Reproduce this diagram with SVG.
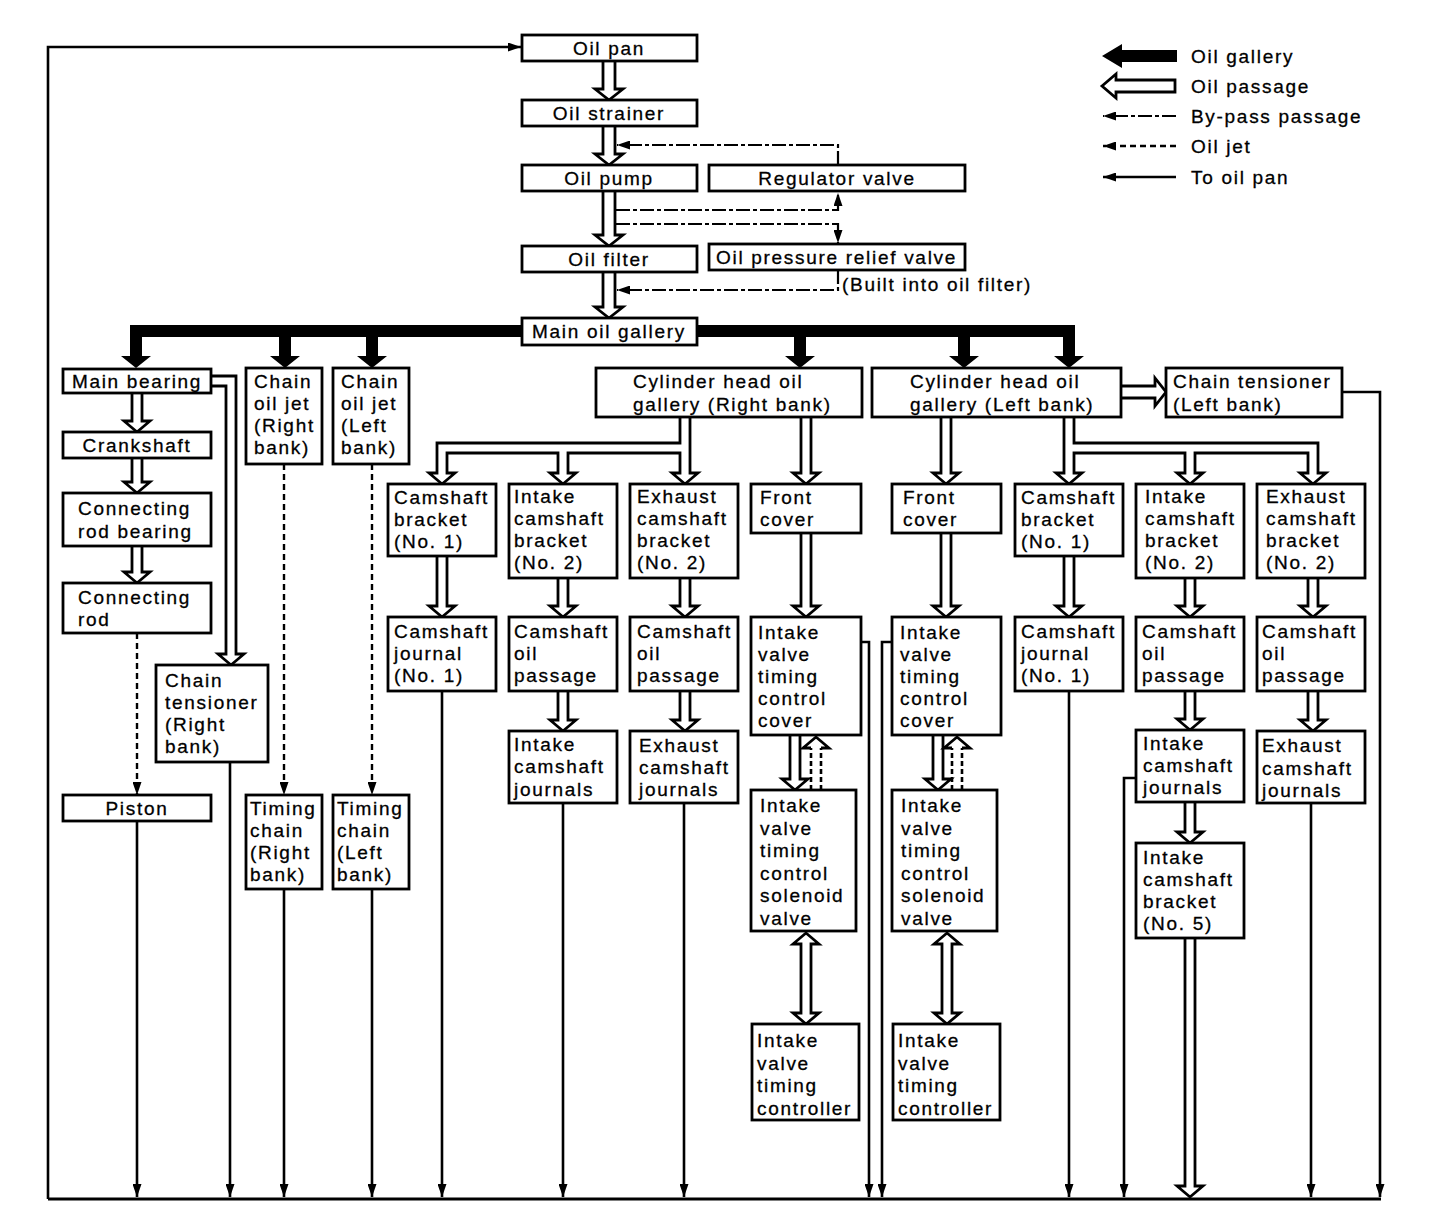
<svg xmlns="http://www.w3.org/2000/svg" width="1456" height="1216" viewBox="0 0 1456 1216">
<defs>
<style>
.b{fill:#fff;stroke:#000;stroke-width:2.8}
.t{font-family:"Liberation Sans",Arial,Helvetica,sans-serif;font-size:19px;letter-spacing:1.7px;fill:#000;stroke:#000;stroke-width:0.3}
.c{text-anchor:middle}
.p{fill:#fff;stroke:#000;stroke-width:2.8;stroke-linejoin:miter}
.g{fill:#000}
.r{fill:none;stroke:#000;stroke-width:2.6}
.bp{fill:none;stroke:#000;stroke-width:2.2;stroke-dasharray:14 3 4 3}
.j{fill:none;stroke:#000;stroke-width:2.4;stroke-dasharray:6 4}
.d{fill:none;stroke:#000;stroke-width:2.6;stroke-dasharray:5 3}
</style>
<marker id="ah" markerUnits="userSpaceOnUse" markerWidth="13" markerHeight="9" refX="13" refY="4.5" orient="auto">
<path d="M0,0 L13,4.5 L0,9 Z" fill="#000"/>
</marker>
</defs>
<rect width="1456" height="1216" fill="#fff"/>

<g id="connectors">
<g id="gallery-bar">
<rect class="g" x="130" y="325" width="945" height="12"/>
<polygon class="g" points="130,330 130,356 121,356 136,368 151,356 142,356 142,330"/>
<polygon class="g" points="279,330 279,356 270,356 285,368 300,356 291,356 291,330"/>
<polygon class="g" points="366,330 366,356 357,356 372,368 387,356 378,356 378,330"/>
<polygon class="g" points="794,330 794,356 785,356 800,368 815,356 806,356 806,330"/>
<polygon class="g" points="958,330 958,356 949,356 964,368 979,356 970,356 970,330"/>
<polygon class="g" points="1063,330 1063,356 1054,356 1069,368 1084,356 1075,356 1075,330"/>
</g>
<g id="passages">
<path class="p" d="M603,61 V89 H595 L609,100 L623,89 H615 V61"/>
<path class="p" d="M603,126 V154 H595 L609,165 L623,154 H615 V126"/>
<path class="p" d="M603,191 V235 H595 L609,246 L623,235 H615 V191"/>
<path class="p" d="M603,272 V307 H595 L609,318 L623,307 H615 V272"/>
<path class="p" d="M132,393 V421 H124 L137,432 L150,421 H142 V393"/>
<path class="p" d="M132,458 V482 H124 L137,493 L150,482 H142 V458"/>
<path class="p" d="M132,546 V572 H124 L137,583 L150,572 H142 V546"/>
<path class="p" d="M211,376 H236 V654 H244 L231,665 L218,654 H226 V386 H211"/>
<path class="p" d="M801,417 V473 H793 L806,484 L819,473 H811 V417"/>
<path class="p" d="M680,417 V443 H437 V473 H429 L442,484 L455,473 H447 V453 H558 V473 H550 L563,484 L576,473 H568 V453 H680 V473 H672 L685,484 L698,473 H690 V417"/>
<path class="p" d="M437,556 V606 H429 L442,617 L455,606 H447 V556"/>
<path class="p" d="M558,578 V606 H550 L563,617 L576,606 H568 V578"/>
<path class="p" d="M680,578 V606 H672 L685,617 L698,606 H690 V578"/>
<path class="p" d="M801,533 V606 H793 L806,617 L819,606 H811 V533"/>
<path class="p" d="M558,691 V720 H550 L563,731 L576,720 H568 V691"/>
<path class="p" d="M680,691 V720 H672 L685,731 L698,720 H690 V691"/>
<path class="p" d="M941,417 V473 H933 L946,484 L959,473 H951 V417"/>
<path class="p" d="M1064,417 V473 H1056 L1069,484 L1082,473 H1074 V453 H1185 V473 H1177 L1190,484 L1203,473 H1195 V453 H1308 V473 H1300 L1313,484 L1326,473 H1318 V443 H1074 V417"/>
<path class="p" d="M1121,386 H1155 V378 L1166,392 L1155,406 V398 H1121"/>
<path class="p" d="M941,533 V606 H933 L946,617 L959,606 H951 V533"/>
<path class="p" d="M1064,556 V606 H1056 L1069,617 L1082,606 H1074 V556"/>
<path class="p" d="M1185,578 V606 H1177 L1190,617 L1203,606 H1195 V578"/>
<path class="p" d="M1308,578 V606 H1300 L1313,617 L1326,606 H1318 V578"/>
<path class="p" d="M1185,691 V719 H1177 L1190,730 L1203,719 H1195 V691"/>
<path class="p" d="M1308,691 V720 H1300 L1313,731 L1326,720 H1318 V691"/>
<path class="p" d="M1185,802 V832 H1177 L1190,843 L1203,832 H1195 V802"/>
<path class="p" d="M1185,938 V1186 H1177 L1190,1197 L1203,1186 H1195 V938"/>
<path class="p" d="M790,735 V779 H782 L795,790 L808,779 H800 V735"/>
<path class="p" d="M933,735 V779 H925 L938,790 L951,779 H943 V735"/>
<path class="d" d="M811,790 V748 M821,790 V748"/>
<path class="p" d="M811,748 H803 L816,737 L829,748 H821"/>
<path class="d" d="M952,790 V748 M962,790 V748"/>
<path class="p" d="M952,748 H944 L957,737 L970,748 H962"/>
<path class="p" d="M801,944 H793 L806,933 L819,944 H811 V1013 H819 L806,1024 L793,1013 H801 Z"/>
<path class="p" d="M942,944 H934 L947,933 L960,944 H952 V1013 H960 L947,1024 L934,1013 H942 Z"/>
</g>
<g id="bypass">
<path class="bp" d="M838,165 V145 H617" marker-end="url(#ah)"/>
<path class="bp" d="M616,210 H838 V193" marker-end="url(#ah)"/>
<path class="bp" d="M616,224 H838 V243" marker-end="url(#ah)"/>
<path class="bp" d="M838,270 V290 H617" marker-end="url(#ah)"/>
</g>
<g id="jets">
<path class="j" d="M137,633 V795" marker-end="url(#ah)"/>
<path class="j" d="M284,464 V795" marker-end="url(#ah)"/>
<path class="j" d="M372,464 V795" marker-end="url(#ah)"/>
</g>
<g id="returns">
<path class="r" d="M137,821 V1197" marker-end="url(#ah)"/>
<path class="r" d="M230,762 V1197" marker-end="url(#ah)"/>
<path class="r" d="M284,889 V1197" marker-end="url(#ah)"/>
<path class="r" d="M372,889 V1197" marker-end="url(#ah)"/>
<path class="r" d="M442,691 V1197" marker-end="url(#ah)"/>
<path class="r" d="M563,803 V1197" marker-end="url(#ah)"/>
<path class="r" d="M684,803 V1197" marker-end="url(#ah)"/>
<path class="r" d="M861,642 H869 V1197" marker-end="url(#ah)"/>
<path class="r" d="M892,642 H882 V1197" marker-end="url(#ah)"/>
<path class="r" d="M1069,691 V1197" marker-end="url(#ah)"/>
<path class="r" d="M1136,778 H1124 V1197" marker-end="url(#ah)"/>
<path class="r" d="M1311,803 V1197" marker-end="url(#ah)"/>
<path class="r" d="M1342,392 H1380 V1197" marker-end="url(#ah)"/>
<path fill="none" stroke="#000" stroke-width="3.2" d="M48,1199 H1381"/>
<path class="r" d="M48,1199 V47 H521" marker-end="url(#ah)"/>
</g>
</g>

<g id="legend">
<polygon class="g" points="1102,56 1122,44 1122,50 1177,50 1177,62 1122,62 1122,68"/>
<text class="t" x="1191" y="63">Oil gallery</text>
<polygon class="p" points="1102,86 1116,74 1116,80 1175,80 1175,92 1116,92 1116,98"/>
<text class="t" x="1191" y="93">Oil passage</text>
<path class="bp" d="M1176,116 H1103" marker-end="url(#ah)"/>
<text class="t" x="1191" y="123">By-pass passage</text>
<path class="j" d="M1176,146 H1103" marker-end="url(#ah)"/>
<text class="t" x="1191" y="153">Oil jet</text>
<path class="r" d="M1176,177 H1103" marker-end="url(#ah)"/>
<text class="t" x="1191" y="184">To oil pan</text>
</g>

<g id="n-oil-pan"><rect class="b" x="522" y="35" width="175" height="26"/><text class="t c" x="609" y="55">Oil pan</text></g>
<g id="n-oil-strainer"><rect class="b" x="522" y="100" width="175" height="26"/><text class="t c" x="609" y="120">Oil strainer</text></g>
<g id="n-oil-pump"><rect class="b" x="522" y="165" width="175" height="26"/><text class="t c" x="609" y="185">Oil pump</text></g>
<g id="n-regulator-valve"><rect class="b" x="709" y="165" width="256" height="26"/><text class="t c" x="837" y="185">Regulator valve</text></g>
<g id="n-oil-filter"><rect class="b" x="522" y="246" width="175" height="26"/><text class="t c" x="609" y="266">Oil filter</text></g>
<g id="n-relief-valve"><rect class="b" x="709" y="244" width="256" height="26"/><text class="t" x="716" y="264">Oil pressure relief valve</text><text class="t" x="842" y="291">(Built into oil filter)</text></g>
<g id="n-main-oil-gallery"><rect class="b" x="522" y="318" width="175" height="27"/><text class="t c" x="609" y="338">Main oil gallery</text></g>

<g id="n-main-bearing"><rect class="b" x="63" y="369" width="148" height="24"/><text class="t c" x="137" y="388">Main bearing</text></g>
<g id="n-crankshaft"><rect class="b" x="63" y="432" width="148" height="26"/><text class="t c" x="137" y="452">Crankshaft</text></g>
<g id="n-conrod-bearing"><rect class="b" x="63" y="493" width="148" height="53"/><text class="t" x="78" y="515">Connecting<tspan x="78" dy="23">rod bearing</tspan></text></g>
<g id="n-conrod"><rect class="b" x="63" y="583" width="148" height="50"/><text class="t" x="78" y="604">Connecting<tspan x="78" dy="22">rod</tspan></text></g>
<g id="n-chain-tensioner-r"><rect class="b" x="156" y="665" width="112" height="97"/><text class="t" x="165" y="687">Chain<tspan x="165" dy="22">tensioner</tspan><tspan x="165" dy="22">(Right</tspan><tspan x="165" dy="22">bank)</tspan></text></g>
<g id="n-piston"><rect class="b" x="63" y="795" width="148" height="26"/><text class="t c" x="137" y="815">Piston</text></g>
<g id="n-chain-jet-r"><rect class="b" x="246" y="368" width="76" height="96"/><text class="t" x="254" y="388">Chain<tspan x="254" dy="22">oil jet</tspan><tspan x="254" dy="22">(Right</tspan><tspan x="254" dy="22">bank)</tspan></text></g>
<g id="n-chain-jet-l"><rect class="b" x="333" y="368" width="76" height="96"/><text class="t" x="341" y="388">Chain<tspan x="341" dy="22">oil jet</tspan><tspan x="341" dy="22">(Left</tspan><tspan x="341" dy="22">bank)</tspan></text></g>
<g id="n-timing-chain-r"><rect class="b" x="246" y="795" width="76" height="94"/><text class="t" x="250" y="815">Timing<tspan x="250" dy="22">chain</tspan><tspan x="250" dy="22">(Right</tspan><tspan x="250" dy="22">bank)</tspan></text></g>
<g id="n-timing-chain-l"><rect class="b" x="333" y="795" width="76" height="94"/><text class="t" x="337" y="815">Timing<tspan x="337" dy="22">chain</tspan><tspan x="337" dy="22">(Left</tspan><tspan x="337" dy="22">bank)</tspan></text></g>

<g id="n-cyl-head-r"><rect class="b" x="596" y="368" width="266" height="49"/><text class="t" x="633" y="388">Cylinder head oil<tspan x="633" dy="23">gallery (Right bank)</tspan></text></g>
<g id="n-cyl-head-l"><rect class="b" x="872" y="368" width="249" height="49"/><text class="t" x="910" y="388">Cylinder head oil<tspan x="910" dy="23">gallery (Left bank)</tspan></text></g>
<g id="n-chain-tensioner-l"><rect class="b" x="1166" y="368" width="176" height="49"/><text class="t" x="1173" y="388">Chain tensioner<tspan x="1173" dy="23">(Left bank)</tspan></text></g>

<g id="n-cam-bracket1-r"><rect class="b" x="388" y="484" width="108" height="72"/><text class="t" x="394" y="504">Camshaft<tspan x="394" dy="22">bracket</tspan><tspan x="394" dy="22">(No. 1)</tspan></text></g>
<g id="n-in-cam-bracket2-r"><rect class="b" x="509" y="484" width="108" height="94"/><text class="t" x="514" y="503">Intake<tspan x="514" dy="22">camshaft</tspan><tspan x="514" dy="22">bracket</tspan><tspan x="514" dy="22">(No. 2)</tspan></text></g>
<g id="n-ex-cam-bracket2-r"><rect class="b" x="630" y="484" width="108" height="94"/><text class="t" x="637" y="503">Exhaust<tspan x="637" dy="22">camshaft</tspan><tspan x="637" dy="22">bracket</tspan><tspan x="637" dy="22">(No. 2)</tspan></text></g>
<g id="n-front-cover-r"><rect class="b" x="751" y="484" width="110" height="49"/><text class="t" x="760" y="504">Front<tspan x="760" dy="22">cover</tspan></text></g>
<g id="n-front-cover-l"><rect class="b" x="892" y="484" width="109" height="49"/><text class="t" x="903" y="504">Front<tspan x="903" dy="22">cover</tspan></text></g>
<g id="n-cam-bracket1-l"><rect class="b" x="1015" y="484" width="108" height="72"/><text class="t" x="1021" y="504">Camshaft<tspan x="1021" dy="22">bracket</tspan><tspan x="1021" dy="22">(No. 1)</tspan></text></g>
<g id="n-in-cam-bracket2-l"><rect class="b" x="1136" y="484" width="108" height="94"/><text class="t" x="1145" y="503">Intake<tspan x="1145" dy="22">camshaft</tspan><tspan x="1145" dy="22">bracket</tspan><tspan x="1145" dy="22">(No. 2)</tspan></text></g>
<g id="n-ex-cam-bracket2-l"><rect class="b" x="1257" y="484" width="108" height="94"/><text class="t" x="1266" y="503">Exhaust<tspan x="1266" dy="22">camshaft</tspan><tspan x="1266" dy="22">bracket</tspan><tspan x="1266" dy="22">(No. 2)</tspan></text></g>

<g id="n-cam-journal1-r"><rect class="b" x="388" y="617" width="108" height="74"/><text class="t" x="394" y="638">Camshaft<tspan x="394" dy="22">journal</tspan><tspan x="394" dy="22">(No. 1)</tspan></text></g>
<g id="n-cam-oil-passage-in-r"><rect class="b" x="509" y="617" width="108" height="74"/><text class="t" x="514" y="638">Camshaft<tspan x="514" dy="22">oil</tspan><tspan x="514" dy="22">passage</tspan></text></g>
<g id="n-cam-oil-passage-ex-r"><rect class="b" x="630" y="617" width="108" height="74"/><text class="t" x="637" y="638">Camshaft<tspan x="637" dy="22">oil</tspan><tspan x="637" dy="22">passage</tspan></text></g>
<g id="n-ivtc-cover-r"><rect class="b" x="751" y="617" width="110" height="118"/><text class="t" x="758" y="639">Intake<tspan x="758" dy="22">valve</tspan><tspan x="758" dy="22">timing</tspan><tspan x="758" dy="22">control</tspan><tspan x="758" dy="22">cover</tspan></text></g>
<g id="n-ivtc-cover-l"><rect class="b" x="892" y="617" width="109" height="118"/><text class="t" x="900" y="639">Intake<tspan x="900" dy="22">valve</tspan><tspan x="900" dy="22">timing</tspan><tspan x="900" dy="22">control</tspan><tspan x="900" dy="22">cover</tspan></text></g>
<g id="n-cam-journal1-l"><rect class="b" x="1015" y="617" width="108" height="74"/><text class="t" x="1021" y="638">Camshaft<tspan x="1021" dy="22">journal</tspan><tspan x="1021" dy="22">(No. 1)</tspan></text></g>
<g id="n-cam-oil-passage-in-l"><rect class="b" x="1136" y="617" width="108" height="74"/><text class="t" x="1142" y="638">Camshaft<tspan x="1142" dy="22">oil</tspan><tspan x="1142" dy="22">passage</tspan></text></g>
<g id="n-cam-oil-passage-ex-l"><rect class="b" x="1257" y="617" width="108" height="74"/><text class="t" x="1262" y="638">Camshaft<tspan x="1262" dy="22">oil</tspan><tspan x="1262" dy="22">passage</tspan></text></g>

<g id="n-in-cam-journals-r"><rect class="b" x="509" y="731" width="108" height="72"/><text class="t" x="514" y="751">Intake<tspan x="514" dy="22">camshaft</tspan><tspan x="514" dy="23">journals</tspan></text></g>
<g id="n-ex-cam-journals-r"><rect class="b" x="630" y="731" width="108" height="72"/><text class="t" x="639" y="752">Exhaust<tspan x="639" dy="22">camshaft</tspan><tspan x="639" dy="22">journals</tspan></text></g>
<g id="n-in-cam-journals-l"><rect class="b" x="1136" y="730" width="108" height="72"/><text class="t" x="1143" y="750">Intake<tspan x="1143" dy="22">camshaft</tspan><tspan x="1143" dy="22">journals</tspan></text></g>
<g id="n-ex-cam-journals-l"><rect class="b" x="1257" y="731" width="108" height="72"/><text class="t" x="1262" y="752">Exhaust<tspan x="1262" dy="23">camshaft</tspan><tspan x="1262" dy="22">journals</tspan></text></g>

<g id="n-ivtc-solenoid-r"><rect class="b" x="751" y="790" width="105" height="141"/><text class="t" x="760" y="812">Intake<tspan x="760" dy="22.5">valve</tspan><tspan x="760" dy="22.5">timing</tspan><tspan x="760" dy="22.5">control</tspan><tspan x="760" dy="22.5">solenoid</tspan><tspan x="760" dy="22.5">valve</tspan></text></g>
<g id="n-ivtc-solenoid-l"><rect class="b" x="892" y="790" width="105" height="141"/><text class="t" x="901" y="812">Intake<tspan x="901" dy="22.5">valve</tspan><tspan x="901" dy="22.5">timing</tspan><tspan x="901" dy="22.5">control</tspan><tspan x="901" dy="22.5">solenoid</tspan><tspan x="901" dy="22.5">valve</tspan></text></g>
<g id="n-in-cam-bracket5-l"><rect class="b" x="1136" y="843" width="108" height="95"/><text class="t" x="1143" y="864">Intake<tspan x="1143" dy="22">camshaft</tspan><tspan x="1143" dy="22">bracket</tspan><tspan x="1143" dy="22">(No. 5)</tspan></text></g>

<g id="n-ivtc-controller-r"><rect class="b" x="752" y="1024" width="107" height="96"/><text class="t" x="757" y="1047">Intake<tspan x="757" dy="22.5">valve</tspan><tspan x="757" dy="22.5">timing</tspan><tspan x="757" dy="22.5">controller</tspan></text></g>
<g id="n-ivtc-controller-l"><rect class="b" x="893" y="1024" width="107" height="96"/><text class="t" x="898" y="1047">Intake<tspan x="898" dy="22.5">valve</tspan><tspan x="898" dy="22.5">timing</tspan><tspan x="898" dy="22.5">controller</tspan></text></g>
</svg>
